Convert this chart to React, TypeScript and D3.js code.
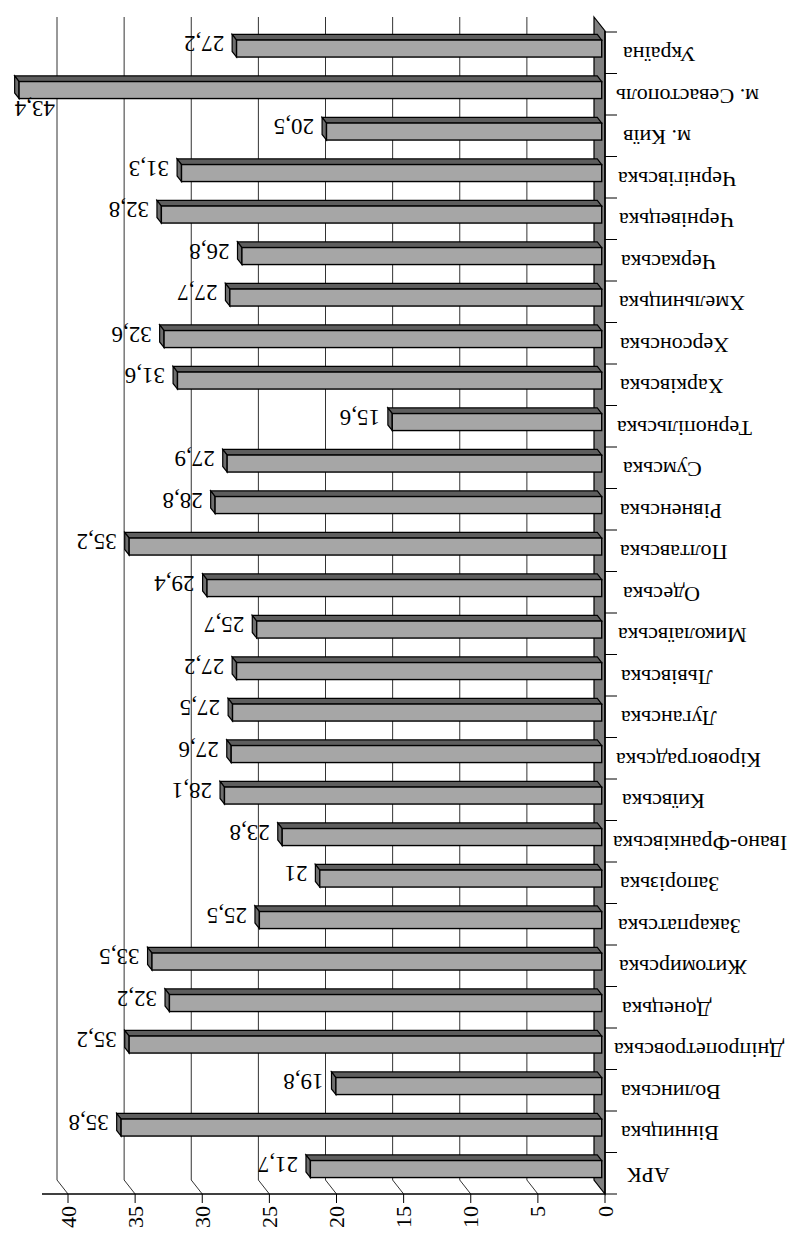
import React from "react";
import * as d3 from "d3";

const categories = [
  "АРК", "Вінницька", "Волинська", "Дніпропетровська", "Донецька", "Житомирська",
  "Закарпатська", "Запорізька", "Івано-Франківська", "Київська", "Кіровоградська",
  "Луганська", "Львівська", "Миколаївська", "Одеська", "Полтавська", "Рівненська",
  "Сумська", "Тернопільська", "Харківська", "Херсонська", "Хмельницька", "Черкаська",
  "Чернівецька", "Чернігівська", "м. Київ", "м. Севастополь", "Україна",
];
const values = [
  21.7, 35.8, 19.8, 35.2, 32.2, 33.5, 25.5, 21, 23.8, 28.1, 27.6, 27.5, 27.2, 25.7,
  29.4, 35.2, 28.8, 27.9, 15.6, 31.6, 32.6, 27.7, 26.8, 32.8, 31.3, 20.5, 43.4, 27.2,
];
const valueTicks = [0, 5, 10, 15, 20, 25, 30, 35, 40];

const W = 789;
const H = 1234;
const DX = -11;
const DY = -14;
const T0 = 0.3;
const T1 = 0.7;
const FONT = "'Liberation Serif', 'Times New Roman', serif";

export default function App() {
  const x = d3.scaleLinear().domain([0, 40]).range([605, 68]);
  const y = d3
    .scaleBand<string>()
    .domain([...categories].reverse())
    .range([32, 1194])
    .padding(0);
  const bw = y.bandwidth();
  const faceH = bw * 0.41;
  const axisY = 1194;
  const backTop = 17;
  const x0 = x(0);
  const fmt = (v: number) => String(v).replace(".", ",");

  const bars = categories.map((c, i) => {
    const v = values[i];
    const cy = (y(c) as number) + bw / 2;
    const fTop = cy + T0 * DY - faceH / 2;
    const fBot = fTop + faceH;
    const fL = x(v) + T0 * DX;
    const fR = x0 + T0 * DX;
    const ddx = (T1 - T0) * DX;
    const ddy = (T1 - T0) * DY;
    const top = [
      [fL, fTop], [fR, fTop], [fR + ddx, fTop + ddy], [fL + ddx, fTop + ddy],
    ];
    const side = [
      [fL, fTop], [fL + ddx, fTop + ddy], [fL + ddx, fBot + ddy], [fL, fBot],
    ];
    const sideLeft = fL + ddx;
    const approxW = 41;
    let label;
    if (sideLeft - 8 - approxW < 2) {
      const lx = sideLeft;
      const ly = cy + 14;
      label = (
        <text
          x={lx}
          y={ly}
          transform={`rotate(180 ${lx} ${ly})`}
          textAnchor="end"
          dominantBaseline="central"
          fontSize={23}
        >
          {fmt(v)}
        </text>
      );
    } else {
      const lx = sideLeft - 8;
      const ly = cy - 9;
      label = (
        <text
          x={lx}
          y={ly}
          transform={`rotate(180 ${lx} ${ly})`}
          textAnchor="start"
          dominantBaseline="central"
          fontSize={23}
        >
          {fmt(v)}
        </text>
      );
    }
    return (
      <g key={c}>
        <polygon points={top.map((p) => p.join(",")).join(" ")} fill="#5e5e5e" stroke="#000" strokeWidth={1.2} />
        <polygon points={side.map((p) => p.join(",")).join(" ")} fill="#6e6e6e" stroke="#000" strokeWidth={1.2} />
        <rect x={fL} y={fTop} width={fR - fL} height={faceH} fill="#a6a6a6" stroke="#000" strokeWidth={1.4} />
        {label}
      </g>
    );
  });

  const wall = [
    [x0 + DX, backTop], [x0, backTop - DY], [x0, axisY], [x0 + DX, axisY + DY],
  ];
  const catTicks = [...y.domain().map((c) => y(c) as number), 1194];

  return (
    <svg
      width={W}
      height={H}
      style={{ position: "absolute", left: 0, top: 0, background: "#fff" }}
      fontFamily={FONT}
    >
      <rect x={0} y={0} width={W} height={H} fill="#fff" />
      {valueTicks.filter((t) => t > 0).map((t) => (
        <g key={t}>
          <line x1={x(t) + DX} y1={backTop} x2={x(t) + DX} y2={axisY + DY} stroke="#333" strokeWidth={1} />
          <line x1={x(t) + DX} y1={axisY + DY} x2={x(t)} y2={axisY} stroke="#333" strokeWidth={1} />
        </g>
      ))}
      <polygon points={wall.map((p) => p.join(",")).join(" ")} fill="#808080" stroke="#000" strokeWidth={1.2} />
      <line x1={42} y1={axisY} x2={x0} y2={axisY} stroke="#000" strokeWidth={1.5} />
      {valueTicks.map((t) => (
        <g key={"vt" + t}>
          <line x1={x(t)} y1={axisY} x2={x(t)} y2={axisY + 9} stroke="#000" strokeWidth={1} />
          <text
            x={x(t)}
            y={axisY + 12}
            transform={`rotate(-90 ${x(t)} ${axisY + 12})`}
            textAnchor="end"
            dominantBaseline="central"
            fontSize={22}
          >
            {t}
          </text>
        </g>
      ))}
      <line x1={x0} y1={backTop - DY} x2={x0} y2={axisY} stroke="#000" strokeWidth={1.5} />
      {catTicks.map((ty, i) => (
        <line key={"ct" + i} x1={x0} y1={ty} x2={x0 + 12} y2={ty} stroke="#000" strokeWidth={1} />
      ))}
      {categories.map((c) => {
        const cy = (y(c) as number) + bw / 2 + 2;
        const lx = 630 - c.length;
        return (
          <text
            key={"cl" + c}
            x={lx}
            y={cy}
            transform={`rotate(180 ${lx} ${cy})`}
            textAnchor="end"
            dominantBaseline="central"
            fontSize={22}
          >
            {c}
          </text>
        );
      })}
      {bars}
    </svg>
  );
}
